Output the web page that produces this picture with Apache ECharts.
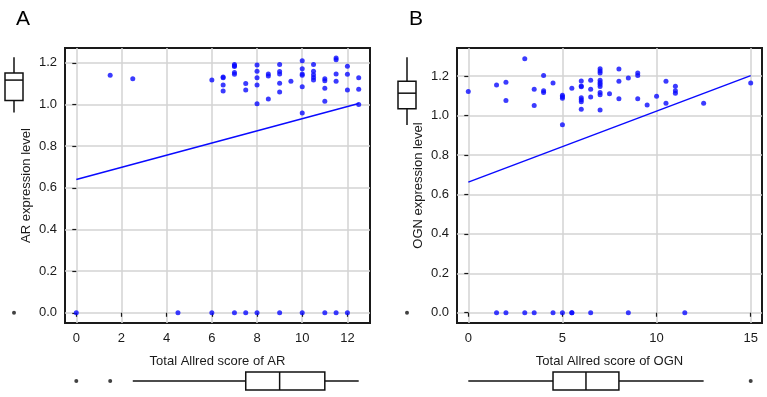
<!DOCTYPE html>
<html>
<head>
<meta charset="utf-8">
<script src="https://cdn.jsdelivr.net/npm/echarts@6/dist/echarts.min.js"></script>
<style>
  html, body { margin: 0; padding: 0; background: #fff; }
  #chart { width: 767px; height: 397px; }
</style>
</head>
<body>
<div id="chart"></div>
<script>
// panel A: AR
var arPoints = [
  [1.5, 1.14], [2.5, 1.124],
  [6, 1.117],
  [6.5, 1.132], [6.5, 1.128], [6.5, 1.093], [6.5, 1.065],
  [7, 1.192], [7, 1.186], [7, 1.182], [7, 1.153], [7, 1.145],
  [7.5, 1.101], [7.5, 1.07],
  [8, 1.189], [8, 1.159], [8, 1.128], [8, 1.094], [8, 1.003],
  [8.5, 1.146], [8.5, 1.137], [8.5, 1.026],
  [9, 1.192], [9, 1.158], [9, 1.146], [9, 1.102], [9, 1.06],
  [9.5, 1.112],
  [10, 1.21], [10, 1.172], [10, 1.146], [10, 1.14], [10, 1.085], [10, 0.959],
  [10.5, 1.192], [10.5, 1.159], [10.5, 1.143], [10.5, 1.13], [10.5, 1.117],
  [11, 1.124], [11, 1.114], [11, 1.078], [11, 1.016],
  [11.5, 1.223], [11.5, 1.215], [11.5, 1.146], [11.5, 1.112],
  [12, 1.184], [12, 1.145], [12, 1.07],
  [12.5, 1.128], [12.5, 1.073], [12.5, 1.0]
];
var arZeroScores = [0, 4.5, 6, 7, 7.5, 8, 9, 10, 11, 11.5, 12];
var arFit = [[0, 0.64], [12.5, 1.005]];
// box stats: [low whisker, q1, median, q3, high whisker]
var arLevelBox = [0.961, 1.019, 1.117, 1.151, 1.227];
var arLevelOut = [0];
var arScoreBox = [2.5, 7.5, 9, 11, 12.5];
var arScoreOut = [0, 1.5];

// panel B: OGN
var ognPoints = [
  [0, 1.122], [1.5, 1.154], [2, 1.169], [2, 1.076], [3, 1.287],
  [3.5, 1.133], [3.5, 1.05], [4, 1.203], [4, 1.125], [4, 1.117], [4.5, 1.165],
  [5, 1.103], [5, 1.095], [5, 1.087], [5, 0.953],
  [5.5, 1.138],
  [6, 1.175], [6, 1.15], [6, 1.145], [6, 1.09], [6, 1.08], [6, 1.07], [6, 1.032],
  [6.5, 1.178], [6.5, 1.133], [6.5, 1.093],
  [7, 1.237], [7, 1.225], [7, 1.215], [7, 1.178], [7, 1.167], [7, 1.158], [7, 1.147], [7, 1.117], [7, 1.105], [7, 1.028],
  [7.5, 1.11],
  [8, 1.235], [8, 1.173], [8, 1.085],
  [8.5, 1.19],
  [9, 1.215], [9, 1.203], [9, 1.085],
  [9.5, 1.053],
  [10, 1.098],
  [10.5, 1.173], [10.5, 1.062],
  [11, 1.148], [11, 1.125], [11, 1.113],
  [12.5, 1.062],
  [15, 1.165]
];
var ognZeroScores = [1.5, 2, 3, 3.5, 4.5, 5, 5.5, 5.5, 6.5, 8.5, 11.5];
var ognFit = [[0, 0.662], [15, 1.202]];
var ognLevelBox = [0.952, 1.034, 1.113, 1.174, 1.295];
var ognLevelOut = [0];
var ognScoreBox = [0, 4.5, 6.25, 8, 12.5];
var ognScoreOut = [15];

var levelTicks = [0, 0.2, 0.4, 0.6, 0.8, 1.0, 1.2];
var arScoreTicks = [0, 2, 4, 6, 8, 10, 12];
var ognScoreTicks = [0, 5, 10, 15];

var FONT = 'Liberation Sans';
var DOT = '#0a0aff';

var chart = echarts.init(document.getElementById('chart'));

function withZeros(points, zeros) {
  return points.concat(zeros.map(function (s) { return [s, 0]; }));
}

function mainX(idx, min, max, ticks, name) {
  return {
    gridIndex: idx, type: 'value', min: min, max: max,
    name: name, nameLocation: 'middle', nameGap: 32,
    nameTextStyle: { fontFamily: FONT, fontSize: 13, color: '#1a1a1a' },
    axisLine: { show: false },
    axisTick: { show: true, length: 4, customValues: ticks, lineStyle: { color: '#1a1a1a', width: 1.2 } },
    axisLabel: { customValues: ticks, margin: 9, fontFamily: FONT, fontSize: 13, color: '#1a1a1a' },
    splitLine: { show: true, lineStyle: { color: '#d3d3d3', width: 1.5 } }
  };
}

function mainY(idx, min, max, name) {
  return {
    gridIndex: idx, type: 'value', min: min, max: max,
    name: name, nameLocation: 'middle', nameGap: 32,
    nameTextStyle: { fontFamily: FONT, fontSize: 13, color: '#1a1a1a' },
    axisLine: { show: false },
    axisTick: { show: true, length: 4, customValues: levelTicks, lineStyle: { color: '#1a1a1a', width: 1.2 } },
    axisLabel: {
      customValues: levelTicks, margin: 8, fontFamily: FONT, fontSize: 13, color: '#1a1a1a',
      formatter: function (v) { return v.toFixed(1); }
    },
    splitLine: { show: true, lineStyle: { color: '#d3d3d3', width: 1.5 } }
  };
}

function hiddenAxis(idx, min, max) {
  return { gridIndex: idx, type: 'value', min: min, max: max, show: false, splitLine: { show: false } };
}

// box drawn through the axes; vertical = box along y
function boxSeries(x, y, stats, vertical) {
  return {
    type: 'custom', xAxisIndex: x, yAxisIndex: y, silent: true,
    data: [stats],
    renderItem: function (params, api) {
      var v = [api.value(0), api.value(1), api.value(2), api.value(3), api.value(4)];
      var pt = function (val) { return vertical ? api.coord([0.5, val]) : api.coord([val, 0.5]); };
      var p = v.map(pt);
      var hw = 9;
      var st = { stroke: '#111', lineWidth: 1.5, fill: '#fff' };
      var kids = [];
      if (vertical) {
        var cx = p[0][0];
        kids.push({ type: 'line', shape: { x1: cx, y1: p[0][1], x2: cx, y2: p[1][1] }, style: st });
        kids.push({ type: 'line', shape: { x1: cx, y1: p[3][1], x2: cx, y2: p[4][1] }, style: st });
        kids.push({ type: 'rect', shape: { x: cx - hw, y: p[3][1], width: hw * 2, height: p[1][1] - p[3][1] }, style: st });
        kids.push({ type: 'line', shape: { x1: cx - hw, y1: p[2][1], x2: cx + hw, y2: p[2][1] }, style: st });
      } else {
        var cy = p[0][1];
        kids.push({ type: 'line', shape: { x1: p[0][0], y1: cy, x2: p[1][0], y2: cy }, style: st });
        kids.push({ type: 'line', shape: { x1: p[3][0], y1: cy, x2: p[4][0], y2: cy }, style: st });
        kids.push({ type: 'rect', shape: { x: p[1][0], y: cy - hw, width: p[3][0] - p[1][0], height: hw * 2 }, style: st });
        kids.push({ type: 'line', shape: { x1: p[2][0], y1: cy - hw, x2: p[2][0], y2: cy + hw }, style: st });
      }
      return { type: 'group', children: kids };
    }
  };
}

function outSeries(x, y, data) {
  return {
    type: 'scatter', xAxisIndex: x, yAxisIndex: y, symbolSize: 4, silent: true,
    itemStyle: { color: '#111' }, data: data
  };
}

var option = {
  animation: false,
  backgroundColor: '#fff',
  title: [
    { text: 'A', left: 11, top: 4, textStyle: { fontFamily: FONT, fontSize: 21, fontWeight: 'normal', color: '#000' } },
    { text: 'B', left: 404, top: 4, textStyle: { fontFamily: FONT, fontSize: 21, fontWeight: 'normal', color: '#000' } }
  ],
  grid: [
    { left: 65, top: 48, width: 305, height: 275, show: true, borderColor: '#1a1a1a', borderWidth: 2 },
    { left: 0, top: 48, width: 28, height: 275 },
    { left: 65, top: 365, width: 305, height: 35 },
    { left: 457, top: 48, width: 305, height: 275, show: true, borderColor: '#1a1a1a', borderWidth: 2 },
    { left: 393, top: 48, width: 28, height: 275 },
    { left: 457, top: 365, width: 305, height: 35 }
  ],
  xAxis: [
    mainX(0, -0.5, 13, arScoreTicks, 'Total Allred score of AR'),
    hiddenAxis(1, 0, 1),
    hiddenAxis(2, -0.5, 13),
    mainX(3, -0.6, 15.6, ognScoreTicks, 'Total Allred score of OGN'),
    hiddenAxis(4, 0, 1),
    hiddenAxis(5, -0.6, 15.6)
  ],
  yAxis: [
    mainY(0, -0.049, 1.271, 'AR expression level'),
    hiddenAxis(1, -0.049, 1.271),
    hiddenAxis(2, 0, 1),
    mainY(3, -0.052, 1.342, 'OGN expression level'),
    hiddenAxis(4, -0.052, 1.342),
    hiddenAxis(5, 0, 1)
  ],
  series: [
    {
      type: 'scatter', xAxisIndex: 0, yAxisIndex: 0, symbolSize: 5, clip: false,
      itemStyle: { color: DOT }, data: withZeros(arPoints, arZeroScores)
    },
    {
      type: 'line', xAxisIndex: 0, yAxisIndex: 0, symbol: 'none',
      lineStyle: { color: DOT, width: 1.5 }, data: arFit
    },
    boxSeries(1, 1, arLevelBox, true),
    outSeries(1, 1, arLevelOut.map(function (v) { return [0.5, v]; })),
    boxSeries(2, 2, arScoreBox, false),
    outSeries(2, 2, arScoreOut.map(function (v) { return [v, 0.5]; })),
    {
      type: 'scatter', xAxisIndex: 3, yAxisIndex: 3, symbolSize: 5, clip: false,
      itemStyle: { color: DOT }, data: withZeros(ognPoints, ognZeroScores)
    },
    {
      type: 'line', xAxisIndex: 3, yAxisIndex: 3, symbol: 'none',
      lineStyle: { color: DOT, width: 1.5 }, data: ognFit
    },
    boxSeries(4, 4, ognLevelBox, true),
    outSeries(4, 4, ognLevelOut.map(function (v) { return [0.5, v]; })),
    boxSeries(5, 5, ognScoreBox, false),
    outSeries(5, 5, ognScoreOut.map(function (v) { return [v, 0.5]; }))
  ]
};

chart.setOption(option);
</script>
</body>
</html>
